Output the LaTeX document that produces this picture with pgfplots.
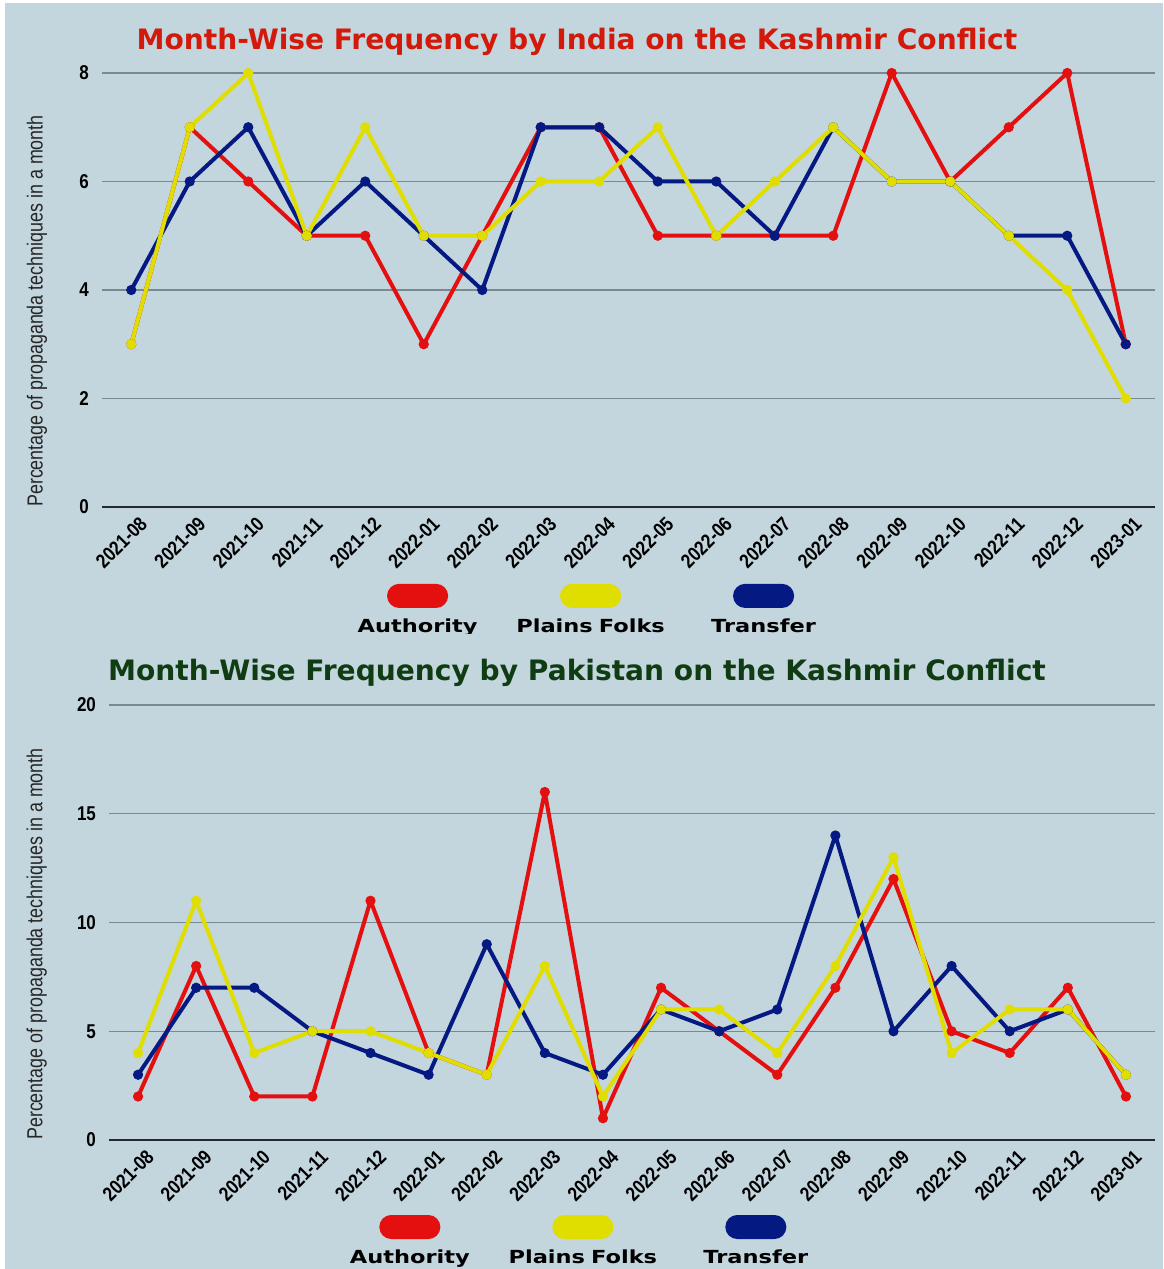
\documentclass[border=0pt]{standalone}
\usepackage{pgfplots}
\pgfplotsset{compat=1.18}
\usepackage{fontspec}
\setmainfont{Liberation Sans}
\newfontfamily\tickfont[FakeStretch=0.85]{Liberation Sans}
\newfontfamily\labfont[FakeStretch=0.82]{Liberation Sans}
\newfontfamily\titfont{DejaVu Sans}
\newfontfamily\legfont[FakeStretch=1.25]{DejaVu Sans}
\definecolor{bgc}{RGB}{195,213,221}
\definecolor{gridc}{RGB}{120,137,148}
\definecolor{cred}{RGB}{228,16,16}
\definecolor{cyel}{RGB}{224,222,0}
\definecolor{cblu}{RGB}{5,25,130}
\definecolor{tred}{RGB}{210,25,10}
\definecolor{tgrn}{RGB}{15,60,18}
\pgfplotsset{
 kash/.style={
  scale only axis, anchor=south west, clip=false,
  xmin=-0.5, xmax=17.5, ymin=0,
  xtick={0,...,17},
  xticklabels={2021-08,2021-09,2021-10,2021-11,2021-12,2022-01,2022-02,2022-03,2022-04,2022-05,2022-06,2022-07,2022-08,2022-09,2022-10,2022-11,2022-12,2023-01},
  axis line style={draw=none},
  major tick length=0pt,
  ymajorgrids, grid style={gridc, line width=0.6pt},
  extra y ticks={0}, extra y tick labels={}, extra y tick style={grid style={black!70!gridc, line width=0.9pt}},
  /pgf/number format/assume math mode=true,
  yticklabel style={font=\tickfont\bfseries\fontsize{10}{11}\selectfont, text=black, xshift=-3pt},
  xticklabel style={font=\tickfont\bfseries\fontsize{10}{11}\selectfont, text=black, rotate=45, anchor=north east, xshift=3pt, yshift=-2pt},
  ylabel style={font=\labfont\fontsize{10.9}{12}\selectfont, text=black!85, anchor=center},
  ylabel={Percentage of propaganda techniques in a month},
  legend columns=3,
  legend style={draw=none, fill=none, anchor=center, font=\legfont\bfseries\fontsize{9}{10}\selectfont, text=black,
    /tikz/every even column/.append style={column sep=2.5pt},
    nodes={text width=84pt, align=center, inner sep=0pt, text depth=0pt}},
  legend image code/.code={\fill[#1, overlay, rounded corners=5pt] (27.75pt,10pt) rectangle (56.25pt,20pt);},
  every axis plot/.append style={line width=2pt, line join=round, mark=*, mark size=2.3pt, mark options={solid, line width=0.5pt}},
 }}
\begin{document}
\begin{tikzpicture}
\fill[white] (0,0) rectangle (581.5pt,634.5pt);
\fill[bgc] (2.5pt,0) rectangle (581.5pt,633pt);
\useasboundingbox (0,0) rectangle (581.5pt,634.5pt);
\begin{axis}[kash, at={(51pt,381pt)}, width=526.5pt, height=217pt,
  ymax=8, ytick={0,2,4,6,8},
  ylabel style={at={(axis description cs:-0.0617,0.4516)}},
  legend style={at={(axis description cs:0.464,-0.274)}}]
\addplot[color=cred, forget plot] coordinates {(0,3)(1,7)(2,6)(3,5)(4,5)(5,3)(6,5)(7,7)(8,7)(9,5)(10,5)(11,5)(12,5)(13,8)(14,6)(15,7)(16,8)(17,3)};
\addplot[color=cblu, forget plot] coordinates {(0,4)(1,6)(2,7)(3,5)(4,6)(5,5)(6,4)(7,7)(8,7)(9,6)(10,6)(11,5)(12,7)(13,6)(14,6)(15,5)(16,5)(17,3)};
\addplot[color=cyel, forget plot] coordinates {(0,3)(1,7)(2,8)(3,5)(4,7)(5,5)(6,5)(7,6)(8,6)(9,7)(10,5)(11,6)(12,7)(13,6)(14,6)(15,5)(16,4)(17,2)};
\addlegendimage{color=cred}\addlegendentry{Authority}
\addlegendimage{color=cyel}\addlegendentry{Plains Folks}
\addlegendimage{color=cblu}\addlegendentry{Transfer}
\end{axis}
\fill[bgc] (2.5pt,309.5pt) rectangle (581.5pt,317.5pt);
\node[font=\titfont\bfseries\fontsize{14.05}{16}\selectfont, text=tred, anchor=base] at (288.5pt,609.5pt) {Month-Wise Frequency by India on the Kashmir Conflict};
\node[font=\titfont\bfseries\fontsize{14.05}{16}\selectfont, text=tgrn, anchor=base] at (288.5pt,294pt) {Month-Wise Frequency by Pakistan on the Kashmir Conflict};
\begin{axis}[kash, at={(54.5pt,64.5pt)}, width=523pt, height=217.5pt,
  ymax=20, ytick={0,5,10,15,20},
  ylabel style={at={(axis description cs:-0.069,0.4506)}},
  legend style={at={(axis description cs:0.453,-0.269)}}]
\addplot[color=cred, forget plot] coordinates {(0,2)(1,8)(2,2)(3,2)(4,11)(5,4)(6,3)(7,16)(8,1)(9,7)(10,5)(11,3)(12,7)(13,12)(14,5)(15,4)(16,7)(17,2)};
\addplot[color=cblu, forget plot] coordinates {(0,3)(1,7)(2,7)(3,5)(4,4)(5,3)(6,9)(7,4)(8,3)(9,6)(10,5)(11,6)(12,14)(13,5)(14,8)(15,5)(16,6)(17,3)};
\addplot[color=cyel, forget plot] coordinates {(0,4)(1,11)(2,4)(3,5)(4,5)(5,4)(6,3)(7,8)(8,2)(9,6)(10,6)(11,4)(12,8)(13,13)(14,4)(15,6)(16,6)(17,3)};
\addlegendimage{color=cred}\addlegendentry{Authority}
\addlegendimage{color=cyel}\addlegendentry{Plains Folks}
\addlegendimage{color=cblu}\addlegendentry{Transfer}
\end{axis}
\end{tikzpicture}
\end{document}
